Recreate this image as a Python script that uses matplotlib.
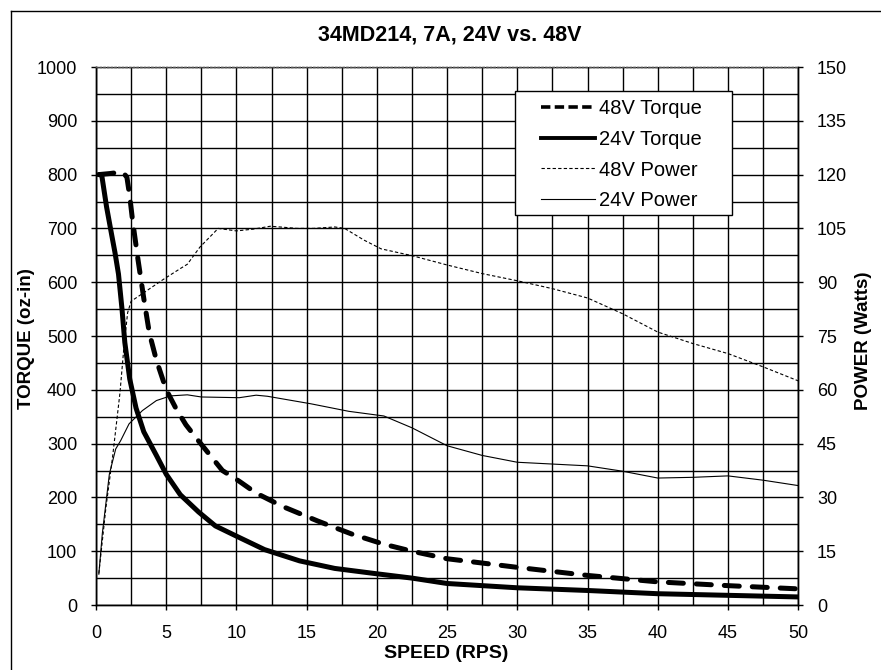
import matplotlib.pyplot as plt
from matplotlib.ticker import MultipleLocator
from matplotlib.lines import Line2D
from matplotlib.patches import Rectangle

plt.rcParams['font.family'] = ['Liberation Sans', 'DejaVu Sans']

# 24V torque (oz-in)
spd_t24 = [0.2, 0.4, 0.75, 1.1, 1.35, 1.6, 1.85, 2.05, 2.4, 2.85, 3.4, 4.3, 5.0, 6.0, 7.3, 8.5,
           10, 12, 14.5, 17, 20, 22.5, 25, 30, 35, 40, 45, 50]
trq_24 = [800, 800, 740, 690, 655, 615, 550, 488, 420, 366, 322, 278, 243, 205, 173, 147,
          128, 103, 82, 68, 58, 50, 40, 32, 27, 21, 18, 15]

# 48V torque (oz-in)
spd_t48 = [0.2, 1.0, 1.9, 2.2, 2.4, 2.6, 3.0, 3.4, 3.8, 4.3, 5.0, 5.7, 6.4, 7.3, 9.0, 10.2,
           11.4, 13.3, 15.8, 18.2, 20.5, 22.5, 25, 30, 35, 40, 45, 50]
trq_48 = [800, 802, 805, 795, 760, 715, 640, 570, 505, 455, 400, 365, 335, 305, 250, 230,
          208, 183, 156, 132, 113, 100, 86, 70, 55, 43, 36, 30]

# 24V power (W)
spd_p24 = [0.2, 0.45, 0.95, 1.4, 1.75, 2.35, 3.3, 4.3, 5.3, 6.5, 7.5, 10.2, 11.4, 12.2, 15.3,
           18, 20.5, 22.5, 25, 27.5, 30, 32.5, 35, 37.5, 40, 42.5, 45, 47.5, 50]
pwr_24 = [8.6, 20, 36.5, 43.5, 45.8, 50.5, 54.2, 57, 58.3, 58.6, 58.0, 57.8, 58.5, 58.2, 56.1,
          54, 52.7, 49.4, 44.4, 41.7, 39.8, 39.3, 38.8, 37.3, 35.4, 35.6, 36, 34.8, 33.3]

# 48V power (W)
spd_p48 = [0.2, 0.7, 1.2, 1.7, 2.0, 2.25, 2.5, 3.3, 4.8, 6.0, 6.5, 7.4, 8.7, 10, 11.2, 12.4,
           13.1, 14.3, 15.5, 17, 17.7, 19.1, 20.3, 22.5, 25, 27.5, 30, 32.5, 35, 37.5, 40,
           42.5, 45, 47.5, 50]
pwr_48 = [8.8, 27, 42, 59, 72.5, 81.5, 84.7, 86.8, 90.8, 93.8, 95, 99.8, 105, 104.3, 104.8,
          105.6, 105.4, 105, 105, 105.4, 105, 101.7, 99.3, 97.4, 94.8, 92.4, 90.4, 88.2, 85.6,
          81.2, 76.1, 72.9, 70.1, 66.4, 62.5]

labels = ['48V Torque', '24V Torque', '48V Power', '24V Power']

fig = plt.figure(figsize=(8.81, 6.70), dpi=100)
ax = fig.add_axes([0.109, 0.097, 0.797, 0.803])
ax2 = ax.twinx()

ax.set_xlim(0, 50)
ax.set_ylim(0, 1000)
ax2.set_ylim(0, 150)

ax.xaxis.set_major_locator(MultipleLocator(5))
ax.xaxis.set_minor_locator(MultipleLocator(2.5))
ax.yaxis.set_major_locator(MultipleLocator(100))
ax.yaxis.set_minor_locator(MultipleLocator(50))
ax2.yaxis.set_major_locator(MultipleLocator(15))

ax.grid(which='both', color='black', lw=1.0)
ax.set_axisbelow(True)
ax.tick_params(which='minor', length=0)
ax.tick_params(which='major', direction='out', length=3.6, width=1, labelsize=13, pad=10)
ax.tick_params(axis='x', pad=11)
ax2.tick_params(direction='out', length=3.6, width=1, labelsize=13, pad=10)

for a in (ax, ax2):
    for s in a.spines.values():
        s.set_linewidth(1.0)
    a.spines['top'].set_linestyle(':')
    a.spines['top'].set_color('#555555')

ax.plot(spd_t48, trq_48, color='black', lw=3.6, ls=(0, (3, 2.6)),
        dash_capstyle='round', zorder=5)
ax.plot(spd_t24, trq_24, color='black', lw=3.6, solid_capstyle='round', zorder=5)
ax2.plot(spd_p48, pwr_48, color='black', lw=0.8, ls=(0, (3, 2)))
ax2.plot(spd_p24, pwr_24, color='black', lw=0.8)

# legend box
ax2.add_patch(Rectangle((0.597, 0.725), 0.309, 0.230, transform=ax2.transAxes,
                        facecolor='white', edgecolor='black', lw=1.0, zorder=8))
handles = [Line2D([], [], color='black', lw=2.6, ls=(0, (2.6, 1.2))),
           Line2D([], [], color='black', lw=2.8),
           Line2D([], [], color='black', lw=0.8, ls=(0, (3, 2))),
           Line2D([], [], color='black', lw=0.8)]
leg = ax2.legend(handles, labels, loc='upper left', bbox_to_anchor=(0.634, 0.941),
                 fontsize=14.5, frameon=False, handlelength=2.65, handletextpad=0.2,
                 borderpad=0, labelspacing=0.59, borderaxespad=0)
leg.set_zorder(9)

fig.text(0.51, 0.948, '34MD214, 7A, 24V vs. 48V', ha='center', va='center',
         fontsize=15.5, fontweight='bold')
fig.text(0.506, 0.025, 'SPEED (RPS)', ha='center', va='center', fontsize=14,
         fontweight='bold')
fig.text(0.03, 0.494, 'TORQUE (oz-in)', ha='center', va='center', rotation=90,
         fontsize=13.5, fontweight='bold')
fig.text(0.98, 0.492, 'POWER (Watts)', ha='center', va='center', rotation=90,
         fontsize=13.5, fontweight='bold')

# outer chart frame (left and top edges visible)
fig.add_artist(Line2D([0.012, 0.012], [0.0, 0.984], color='black', lw=1.0,
                      transform=fig.transFigure))
fig.add_artist(Line2D([0.012, 1.0], [0.984, 0.984], color='black', lw=1.0,
                      transform=fig.transFigure))

fig.savefig('out.png', dpi=100)
